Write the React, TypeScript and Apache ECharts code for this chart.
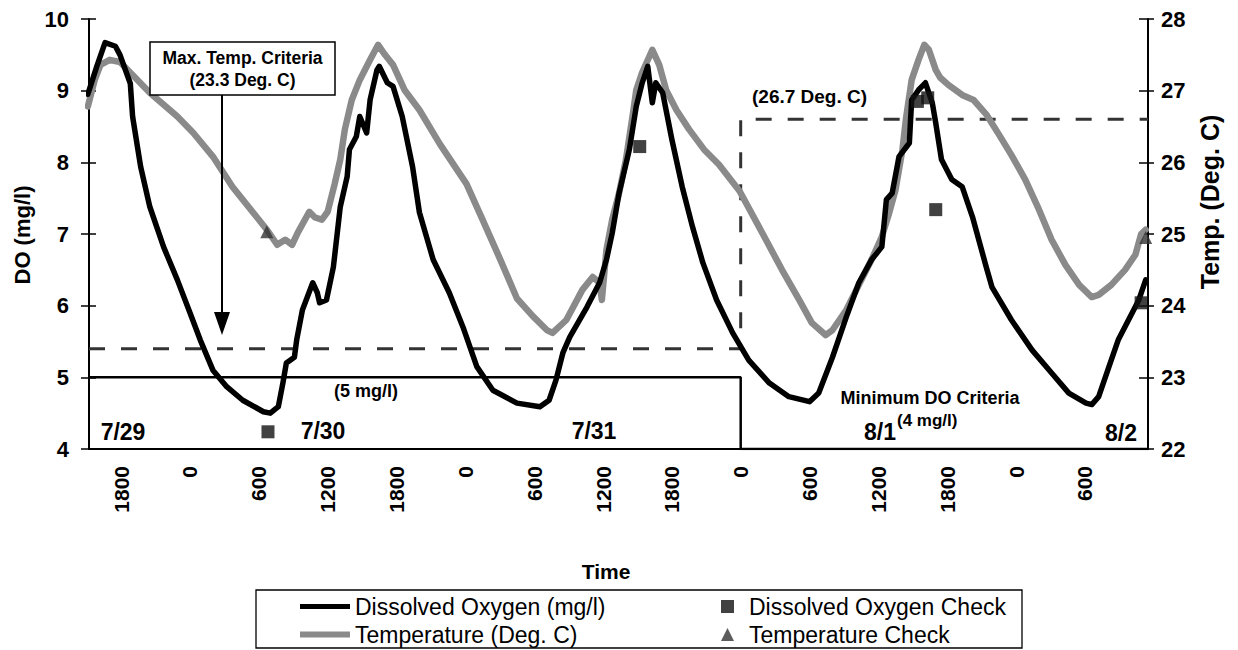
import React, { useEffect, useRef } from "react";
import * as echarts from "echarts";

// ---- Data (time = hours since 7/29 00:00) ----
const DO_TIME = [15.1,15.9,16.6,17.5,17.9,18.8,19.0,19.7,20.5,21.7,22.9,24.0,24.9,26.0,27.2,28.6,30.4,31.0,31.7,32.1,32.4,33.1,33.3,33.8,34.7,35.1,35.3,35.9,36.5,37.1,37.7,37.9,38.5,38.8,39.4,39.7,40.3,40.5,41.2,41.7,42.5,43.4,44.0,45.2,46.6,47.8,49.0,50.4,52.5,54.5,55.3,55.9,56.5,57.1,58.6,59.7,60.3,60.8,61.4,62.3,62.9,63.4,63.9,64.3,64.6,65.2,66.0,66.9,67.8,68.7,69.9,71.3,72.7,74.5,76.2,78.0,78.8,80.0,81.2,82.3,83.4,84.3,84.7,85.2,85.8,86.7,86.9,87.5,88.1,88.7,89.0,89.5,90.4,91.3,92.2,93.4,93.9,95.6,97.4,99.1,100.6,102.1,102.6,103.2,104.1,104.9,105.8,106.7,107.3];
const DO_VALUES = [8.95,9.35,9.67,9.62,9.5,9.1,8.64,7.94,7.38,6.82,6.36,5.9,5.52,5.1,4.87,4.68,4.52,4.5,4.59,4.92,5.2,5.28,5.52,5.94,6.32,6.18,6.04,6.08,6.54,7.38,7.8,8.18,8.36,8.64,8.41,8.87,9.29,9.34,9.11,9.06,8.64,7.94,7.3,6.64,6.18,5.7,5.15,4.82,4.64,4.59,4.68,4.96,5.34,5.56,5.98,6.32,6.64,7.01,7.57,8.18,8.78,9.1,9.34,8.83,9.11,8.97,8.32,7.66,7.1,6.6,6.08,5.62,5.24,4.92,4.73,4.66,4.78,5.28,5.84,6.32,6.64,6.82,7.48,7.57,8.08,8.27,8.87,9.01,9.11,8.83,8.55,8.04,7.76,7.66,7.24,6.54,6.26,5.8,5.38,5.06,4.78,4.64,4.62,4.73,5.15,5.52,5.8,6.08,6.36];

const TEMP_TIME = [15.1,15.7,16.2,17.0,17.9,20.5,22.9,24.3,26.0,27.7,29.5,30.7,31.6,32.3,32.9,33.4,34.4,34.9,35.5,36.0,36.6,37.1,37.5,38.1,38.8,39.7,40.4,41.0,41.7,42.7,44.0,45.8,48.1,49.5,51.0,52.5,53.9,55.1,55.6,56.8,58.2,59.1,59.7,59.9,60.3,60.8,61.4,62.0,62.6,62.9,63.4,64.3,64.9,65.5,66.4,67.5,68.8,70.1,71.9,74.2,75.6,77.1,78.2,79.4,80.0,81.2,82.3,83.4,84.3,84.9,85.5,86.1,86.4,86.9,87.5,88.0,88.4,89.0,89.4,90.1,91.3,92.3,93.4,94.5,95.6,96.8,98.0,99.1,100.3,101.5,102.6,103.2,104.3,105.5,106.4,106.9,107.3];
const TEMP_VALUES = [26.78,27.15,27.36,27.43,27.4,26.97,26.64,26.41,26.08,25.66,25.3,25.06,24.85,24.92,24.85,25.02,25.31,25.23,25.2,25.31,25.69,26.04,26.46,26.87,27.15,27.43,27.64,27.5,27.36,27.01,26.73,26.25,25.7,25.2,24.66,24.1,23.85,23.66,23.62,23.8,24.22,24.4,24.32,24.08,24.78,25.2,25.57,26.04,26.67,27.01,27.25,27.57,27.36,27.01,26.73,26.46,26.18,25.97,25.6,24.92,24.5,24.08,23.76,23.59,23.66,23.94,24.29,24.64,24.96,25.27,25.62,26.18,26.6,27.15,27.43,27.64,27.57,27.29,27.18,27.08,26.94,26.87,26.67,26.39,26.1,25.76,25.34,24.92,24.57,24.29,24.12,24.15,24.29,24.5,24.71,25.0,25.06];

const DO_CHECK_TIME = [30.8, 63.2, 87.4, 88.3, 89.0, 106.9];
const DO_CHECK_VALUES = [4.24, 8.22, 8.85, 8.9, 7.34, 6.04];
const TEMP_CHECK_TIME = [15.1, 30.7, 107.3];
const TEMP_CHECK_VALUES = [26.8, 25.03, 24.95];

const TEMP_CRITERIA_TIME = [15.2, 72, 72, 107.5];
const TEMP_CRITERIA_VALUES = [23.4, 23.4, 26.6, 26.6];
const DO_CRITERIA_TIME = [15.2, 72, 72, 107.5];
const DO_CRITERIA_VALUES = [5, 5, 4, 4];

const TICK_HOURS = [18, 24, 30, 36, 42, 48, 54, 60, 66, 72, 78, 84, 90, 96, 102];
const TICK_LABELS = ["1800", "0", "600", "1200", "1800", "0", "600", "1200", "1800", "0", "600", "1200", "1800", "0", "600"];

const DATE_LABELS = ["7/29", "7/30", "7/31", "8/1", "8/2"];

const SERIES_NAMES = ["Dissolved Oxygen (mg/l)", "Temperature (Deg. C)", "Dissolved Oxygen Check", "Temperature Check"];

const X_MIN = 15.2;
const X_MAX = 107.5;

const FONT = '"Liberation Sans", Arial, Helvetica, sans-serif';

const zip = (a: number[], b: number[]) => a.map((v, i) => [v, b[i]]);

const txt = (text: string, x: number, y: number, size: number, opts: any = {}) => ({
  type: "text",
  x,
  y,
  z: 100,
  rotation: opts.rotation || 0,
  style: {
    text,
    font: `${opts.weight || "bold"} ${size}px ${FONT}`,
    fill: "#000",
    textAlign: opts.align || "center",
    textVerticalAlign: "middle",
    align: opts.align || "center",
    verticalAlign: "middle",
  },
});

const legendItem = (name: string, icon: string, left: number, top: number, w: number, h: number, extraPad = 0) => ({
  orient: "horizontal",
  left,
  top,
  padding: 0,
  itemWidth: w,
  itemHeight: h,
  data: [{ name, icon }],
  textStyle: { fontSize: 23, color: "#000", fontFamily: FONT, padding: [0, 0, 0, extraPad] },
});

export default function App() {
  const ref = useRef<HTMLDivElement>(null);

  useEffect(() => {
    const chart = echarts.init(ref.current!, null, { renderer: "svg" });
    const axisLabelBase = { color: "#000", fontWeight: "bold", fontFamily: FONT };
    const option: any = {
      animation: false,
      backgroundColor: "#fff",
      grid: { left: 89, right: 90, top: 19, bottom: 201, outerBoundsMode: "none" },
      xAxis: {
        type: "value",
        min: X_MIN,
        max: X_MAX,
        axisLine: { show: true, onZero: false, lineStyle: { color: "#000", width: 2 } },
        axisTick: { show: false },
        splitLine: { show: false },
        axisLabel: {
          ...axisLabelBase,
          customValues: TICK_HOURS,
          formatter: (v: number) => {
            const i = TICK_HOURS.indexOf(Math.round(v));
            return i >= 0 ? TICK_LABELS[i] : "";
          },
          rotate: 90,
          margin: 17,
          fontSize: 21,
        },
      },
      yAxis: [
        {
          type: "value", position: "left", min: 4, max: 10, interval: 1,
          axisLine: { show: true, lineStyle: { color: "#000", width: 2 } },
          axisTick: { show: true, length: 8, lineStyle: { color: "#000", width: 1.5 } },
          splitLine: { show: false },
          axisLabel: { ...axisLabelBase, fontSize: 22, margin: 20 },
        },
        {
          type: "value", position: "right", min: 22, max: 28, interval: 1,
          axisLine: { show: true, lineStyle: { color: "#000", width: 2 } },
          axisTick: { show: true, length: 6, lineStyle: { color: "#000", width: 1.5 } },
          splitLine: { show: false },
          axisLabel: { ...axisLabelBase, fontSize: 22, margin: 13 },
        },
        {
          type: "value", position: "left", min: 4, max: 10, interval: 1,
          axisLine: { show: false },
          axisTick: { show: true, inside: true, length: 7, lineStyle: { color: "#000", width: 1.5 } },
          splitLine: { show: false },
          axisLabel: { show: false },
        },
        {
          type: "value", position: "right", min: 22, max: 28, interval: 1,
          axisLine: { show: false },
          axisTick: { show: true, inside: true, length: 9, lineStyle: { color: "#000", width: 1.5 } },
          splitLine: { show: false },
          axisLabel: { show: false },
        },
      ],
      legend: [
        legendItem(SERIES_NAMES[0], "rect", 300, 595, 50, 5),
        legendItem(SERIES_NAMES[1], "rect", 300, 623, 50, 6),
        legendItem(SERIES_NAMES[2], "rect", 721, 595, 13, 13, 10),
        legendItem(SERIES_NAMES[3], "triangle", 721, 623, 13, 13, 10),
      ],
      series: [
        {
          name: "DO Criteria",
          type: "line",
          yAxisIndex: 0,
          data: zip(DO_CRITERIA_TIME, DO_CRITERIA_VALUES),
          symbol: "none",
          lineStyle: { color: "#000", width: 2.5 },
          z: 2,
        },
        {
          name: "Temp Criteria",
          type: "line",
          yAxisIndex: 1,
          data: zip(TEMP_CRITERIA_TIME, TEMP_CRITERIA_VALUES),
          symbol: "none",
          lineStyle: { color: "#333", width: 3, type: [16, 16] },
          z: 2,
        },
        {
          name: SERIES_NAMES[1],
          type: "line",
          yAxisIndex: 1,
          data: zip(TEMP_TIME, TEMP_VALUES),
          symbol: "none",
          itemStyle: { color: "#8a8a8a" },
          lineStyle: { color: "#8a8a8a", width: 6.5, join: "round", cap: "round" },
          z: 3,
        },
        {
          name: SERIES_NAMES[0],
          type: "line",
          yAxisIndex: 0,
          data: zip(DO_TIME, DO_VALUES),
          symbol: "none",
          itemStyle: { color: "#000" },
          lineStyle: { color: "#000", width: 5.5, join: "round", cap: "round" },
          z: 4,
        },
        {
          name: SERIES_NAMES[2],
          type: "scatter",
          yAxisIndex: 0,
          data: zip(DO_CHECK_TIME, DO_CHECK_VALUES),
          symbol: "rect",
          symbolSize: 13,
          itemStyle: { color: "#111" },
          z: 5,
        },
        {
          name: SERIES_NAMES[3],
          type: "scatter",
          yAxisIndex: 1,
          data: zip(TEMP_CHECK_TIME, TEMP_CHECK_VALUES),
          symbol: "triangle",
          symbolSize: 13,
          itemStyle: { color: "#333" },
          z: 5,
        },
      ],
      graphic: [
        // axis titles
        txt("DO (mg/l)", 22, 235, 22, { rotation: Math.PI / 2 }),
        txt("Temp. (Deg. C)", 1210, 202, 25, { rotation: Math.PI / 2 }),
        txt("Time", 606, 571, 21),
        // date labels
        txt(DATE_LABELS[0], 123, 432, 23),
        txt(DATE_LABELS[1], 323, 431, 23),
        txt(DATE_LABELS[2], 594, 431, 23),
        txt(DATE_LABELS[3], 880, 432, 23),
        txt(DATE_LABELS[4], 1121, 433, 23),
        // criteria annotations
        txt("(5 mg/l)", 366, 391, 18),
        txt("Minimum DO Criteria", 930, 398, 18),
        txt("(4 mg/l)", 897, 420, 17, { align: "left" }),
        txt("(26.7 Deg. C)", 752, 96, 19, { align: "left" }),
        // max temp criteria box with arrow
        {
          type: "rect",
          z: 99,
          shape: { x: 150, y: 42, width: 185, height: 53 },
          style: { fill: "#fff", stroke: "#000", lineWidth: 1.5 },
        },
        txt("Max. Temp. Criteria", 242.5, 58, 17.5),
        txt("(23.3 Deg. C)", 242.5, 80, 17.5),
        {
          type: "line",
          z: 99,
          shape: { x1: 222, y1: 95, x2: 222, y2: 318 },
          style: { stroke: "#000", lineWidth: 2 },
        },
        {
          type: "polygon",
          z: 99,
          shape: { points: [[214, 312], [230, 312], [222, 335]] },
          style: { fill: "#000" },
        },
        // legend frame
        {
          type: "rect",
          z: 1,
          shape: { x: 256, y: 590, width: 766, height: 58 },
          style: { fill: "none", stroke: "#000", lineWidth: 1.3 },
        },
      ],
    };
    chart.setOption(option);
    return () => chart.dispose();
  }, []);

  return (
    <div
      ref={ref}
      style={{ position: "fixed", left: 0, top: 0, width: 1238, height: 650, background: "#fff" }}
    />
  );
}
